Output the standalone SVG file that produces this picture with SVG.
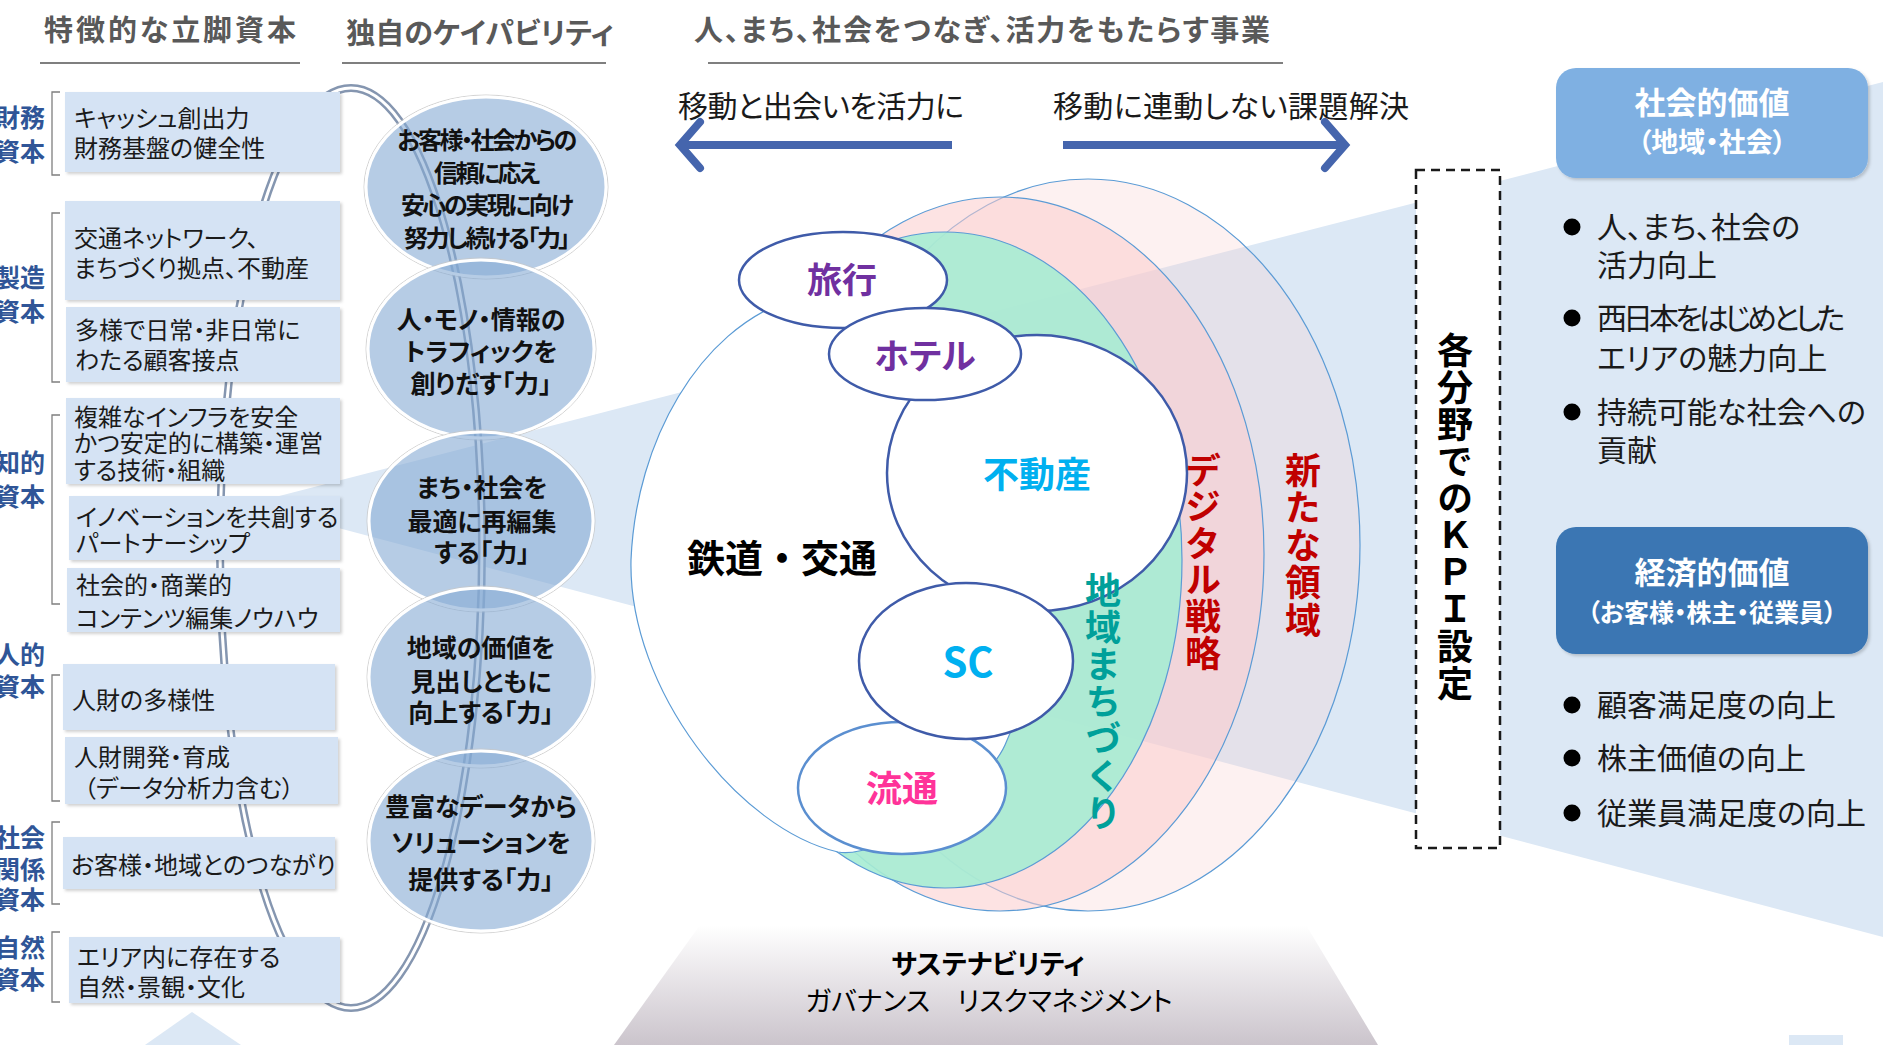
<svg xmlns="http://www.w3.org/2000/svg" width="1883" height="1045" viewBox="0 0 1883 1045">
<defs>
<style>
text{font-family:"Noto Sans CJK JP","Noto Sans",sans-serif;font-feature-settings:"palt"}
.title{font-size:29px;font-weight:700;fill:#595959;text-anchor:middle}
.uline{stroke:#7f7f7f;stroke-width:2}
.box{fill:#d5e3f4;filter:url(#sh)}
.bt{font-size:24px;fill:#1a1a1a}
.lab{font-size:25px;font-weight:700;fill:#2f5597;text-anchor:end}
.br{fill:none;stroke:#7f7f7f;stroke-width:1.3}
.cap{fill:#85aad3;fill-opacity:0.6;stroke:#fff;stroke-width:3}
.caprim{fill:none;stroke:#c8c8c8;stroke-width:1;stroke-opacity:0.8}
.ct{font-size:25px;font-weight:700;fill:#111;text-anchor:middle}
.ring{stroke:#5b9bd5;stroke-width:1.2}
.node{fill:#fff;stroke:#3f5ba9;stroke-width:2.5}
.nt{font-weight:700;text-anchor:middle}
.arr{fill:none;stroke:#4565ad;stroke-width:8}
.vt{font-size:36px;font-weight:700;writing-mode:vertical-rl;font-feature-settings:normal}
.bul{font-size:30px;fill:#1a1a1a}
.hd{fill:#fff;font-weight:700;text-anchor:middle}
</style>
<filter id="sh" x="-5%" y="-10%" width="115%" height="130%">
<feDropShadow dx="2" dy="2" stdDeviation="1.5" flood-color="#000" flood-opacity="0.18"/>
</filter>
<linearGradient id="trap" x1="0" y1="0" x2="0" y2="1">
<stop offset="0" stop-color="#ffffff"/>
<stop offset="1" stop-color="#cbc4cc"/>
</linearGradient>
</defs>

<rect width="1883" height="1045" fill="#fff"/>

<!-- background wedge -->
<g id="wedge">
<polygon points="248,504 1883,82 1883,937" fill="#dce8f5"/>
<polygon points="192,1012 241,1045 145,1045" fill="#dce8f5"/>
<rect x="1789" y="1035" width="54" height="10" fill="#dce8f5"/>
</g>

<!-- titles -->
<g id="titles">
<text class="title" x="170" y="41" textLength="252">特徴的な立脚資本</text>
<line class="uline" x1="40" y1="63" x2="300" y2="63"/>
<text class="title" x="480" y="44">独自のケイパビリティ</text>
<line class="uline" x1="342" y1="63" x2="606" y2="63"/>
<text class="title" x="982" y="41" textLength="576">人、まち、社会をつなぎ、活力をもたらす事業</text>
<line class="uline" x1="708" y1="63" x2="1283" y2="63"/>
</g>

<!-- business rings -->
<g id="ring-new">
<ellipse class="ring" cx="1088" cy="545" rx="272" ry="366" fill="#f8d0d0" fill-opacity="0.3"/>
</g>
<g id="ring-digital">
<ellipse class="ring" cx="1000" cy="554" rx="264" ry="357" fill="#fbcccc" fill-opacity="0.55"/>
</g>
<g id="ring-town">
<ellipse class="ring" cx="945" cy="560" rx="237" ry="328" fill="#a6ecd3" fill-opacity="0.9"/>
</g>

<!-- connectors -->
<g id="connectors">
<ellipse cx="351" cy="548" rx="131" ry="460" fill="none" stroke="#8596b0" stroke-width="8"/>
<ellipse cx="351" cy="548" rx="131" ry="460" fill="none" stroke="#fff" stroke-width="3"/>
<path class="arr" d="M952,145 H682"/>
<path class="arr" d="M700,122 L680,145 L700,168" stroke-linecap="round"/>
<path class="arr" d="M1063,145 H1343"/>
<path class="arr" d="M1325,122 L1345,145 L1325,168" stroke-linecap="round"/>
</g>

<g id="arrow-labels">
<text x="821" y="117" font-size="30" fill="#1a1a1a" text-anchor="middle" textLength="286">移動と出会いを活力に</text>
<text x="1231" y="117" font-size="30" fill="#1a1a1a" text-anchor="middle" textLength="356">移動に連動しない課題解決</text>
</g>

<!-- capital boxes -->
<g id="cap-finance">
<path class="br" d="M60,92 H52 V175 H60"/>
<text class="lab" x="45" y="127">財務<tspan x="45" dy="34">資本</tspan></text>
<rect class="box" x="65" y="92" width="275" height="80"/>
<text class="bt" x="74" y="127">キャッシュ創出力<tspan x="74" dy="30">財務基盤の健全性</tspan></text>
</g>
<g id="cap-manufactured">
<path class="br" d="M60,213 H52 V382 H60"/>
<text class="lab" x="45" y="287">製造<tspan x="45" dy="34">資本</tspan></text>
<rect class="box" x="65" y="201" width="275" height="99"/>
<text class="bt" x="74" y="247">交通ネットワーク、<tspan x="74" dy="30">まちづくり拠点、不動産</tspan></text>
<rect class="box" x="66" y="307" width="274" height="75"/>
<text class="bt" x="75" y="339">多様で日常・非日常に<tspan x="75" dy="30">わたる顧客接点</tspan></text>
</g>
<g id="cap-intellectual">
<path class="br" d="M60,415 H52 V604 H60"/>
<text class="lab" x="45" y="472">知的<tspan x="45" dy="34">資本</tspan></text>
<rect class="box" x="66" y="398" width="274" height="86"/>
<text class="bt" x="74" y="426">複雑なインフラを安全<tspan x="74" dy="26">かつ安定的に構築・運営</tspan><tspan x="74" dy="27">する技術・組織</tspan></text>
<rect class="box" x="69" y="496" width="271" height="64"/>
<text class="bt" x="76" y="526">イノベーションを共創する<tspan x="76" dy="26">パートナーシップ</tspan></text>
<rect class="box" x="67" y="568" width="273" height="64"/>
<text class="bt" x="76" y="594">社会的・商業的<tspan x="76" dy="33">コンテンツ編集ノウハウ</tspan></text>
</g>
<g id="cap-human">
<path class="br" d="M60,675 H52 V801 H60"/>
<text class="lab" x="45" y="664">人的<tspan x="45" dy="32">資本</tspan></text>
<rect class="box" x="63" y="664" width="272" height="66"/>
<text class="bt" x="72" y="709">人財の多様性</text>
<rect class="box" x="65" y="737" width="273" height="67"/>
<text class="bt" x="74" y="766">人財開発・育成<tspan x="84" dy="31">（データ分析力含む）</tspan></text>
</g>
<g id="cap-social">
<path class="br" d="M60,822 H52 V904 H60"/>
<text class="lab" x="45" y="847">社会<tspan x="45" dy="32">関係</tspan><tspan x="45" dy="30">資本</tspan></text>
<rect class="box" x="63" y="837" width="272" height="52"/>
<text class="bt" x="71" y="874">お客様・地域とのつながり</text>
</g>
<g id="cap-natural">
<path class="br" d="M60,932 H52 V1002 H60"/>
<text class="lab" x="45" y="957">自然<tspan x="45" dy="32">資本</tspan></text>
<rect class="box" x="69" y="937" width="271" height="66"/>
<text class="bt" x="77" y="966">エリア内に存在する<tspan x="77" dy="30">自然・景観・文化</tspan></text>
</g>

<!-- capability circles -->
<g id="capability-1">
<ellipse class="caprim" cx="486" cy="187" rx="122" ry="92"/>
<ellipse class="cap" cx="486" cy="187" rx="120" ry="90"/>
<text class="ct" x="486" y="149" style="font-size:24px;letter-spacing:-2.5px">お客様・社会からの<tspan x="486" dy="33">信頼に応え</tspan><tspan x="486" dy="32">安心の実現に向け</tspan><tspan x="486" dy="33">努力し続ける「力」</tspan></text>
</g>
<g id="capability-2">
<ellipse class="caprim" cx="481" cy="349" rx="115" ry="91"/>
<ellipse class="cap" cx="481" cy="349" rx="113" ry="89"/>
<text class="ct" x="481" y="329">人・モノ・情報の<tspan x="481" dy="32">トラフィックを</tspan><tspan x="481" dy="32">創りだす「力」</tspan></text>
</g>
<g id="capability-3">
<ellipse class="caprim" cx="481" cy="521" rx="114" ry="91"/>
<ellipse class="cap" cx="481" cy="521" rx="112" ry="89"/>
<text class="ct" x="482" y="497">まち・社会を<tspan x="482" dy="34">最適に再編集</tspan><tspan x="482" dy="31">する「力」</tspan></text>
</g>
<g id="capability-4">
<ellipse class="caprim" cx="481" cy="677" rx="114" ry="91"/>
<ellipse class="cap" cx="481" cy="677" rx="112" ry="89"/>
<text class="ct" x="481" y="657">地域の価値を<tspan x="481" dy="34">見出しともに</tspan><tspan x="481" dy="31">向上する「力」</tspan></text>
</g>
<g id="capability-5">
<ellipse class="caprim" cx="481" cy="841" rx="114" ry="92"/>
<ellipse class="cap" cx="481" cy="841" rx="112" ry="90"/>
<text class="ct" x="481" y="816">豊富なデータから<tspan x="481" dy="36">ソリューションを</tspan><tspan x="481" dy="37">提供する「力」</tspan></text>
</g>

<!-- core business -->
<g id="railway">
<path d="M790,300 C700,330 636,440 631,560 C628,690 740,830 838,852 C880,860 985,790 1005,745 C1025,700 1050,620 1060,560 C1070,470 1040,390 980,345 C930,320 850,290 790,300 Z" fill="#fff" stroke="#5b9bd5" stroke-width="1.2"/>
<text x="782" y="572" font-size="38" font-weight="700" fill="#000" text-anchor="middle" style="font-feature-settings:normal">鉄道・交通</text>
</g>
<g id="realestate">
<ellipse class="node" cx="1037" cy="473" rx="150" ry="138"/>
<text class="nt" x="1037" y="488" font-size="36" fill="#00b0f0">不動産</text>
</g>
<g id="distribution">
<ellipse cx="902" cy="788" rx="104" ry="66" fill="#fff" stroke="#5b8fd0" stroke-width="2.5"/>
<text class="nt" x="902" y="802" font-size="36" fill="#ff3399">流通</text>
</g>
<g id="sc">
<ellipse class="node" cx="966" cy="661" rx="107" ry="78"/>
<text class="nt" x="968" y="677" font-size="40" fill="#00b0f0">SC</text>
</g>
<g id="travel">
<ellipse class="node" cx="843" cy="280" rx="104" ry="48"/>
<text class="nt" x="842" y="293" font-size="35" fill="#7030a0">旅行</text>
</g>
<g id="hotel">
<ellipse class="node" cx="925" cy="354" rx="96" ry="46"/>
<text class="nt" x="925" y="369" font-size="35" fill="#7030a0">ホテル</text>
</g>

<!-- ring labels -->
<g id="label-town">
<text class="vt" x="1103" y="572" fill="#00a09a" style="letter-spacing:1.2px">地域まちづくり</text>
</g>
<g id="label-digital">
<text class="vt" x="1203" y="452" fill="#c00000" style="letter-spacing:0.6px">デジタル戦略</text>
</g>
<g id="label-new">
<text class="vt" x="1303" y="452" fill="#c00000" style="letter-spacing:1.5px">新たな領域</text>
</g>

<!-- KPI box -->
<g id="kpi">
<rect x="1416" y="170" width="84" height="678" fill="#fff" stroke="#1a1a1a" stroke-width="2.5" stroke-dasharray="9,6"/>
<text class="vt" x="1455" y="332" fill="#000" style="letter-spacing:1px">各分野でのＫＰＩ設定</text>
</g>

<!-- value boxes -->
<g id="social-value">
<rect x="1556" y="68" width="312" height="110" rx="20" fill="#7fb0e2" filter="url(#sh)"/>
<text class="hd" x="1712" y="114" font-size="31">社会的価値<tspan x="1712" dy="38" font-size="27">（地域・社会）</tspan></text>
<circle cx="1572" cy="227" r="8.5" fill="#000"/>
<text class="bul" x="1597" y="238">人、まち、社会の<tspan x="1597" dy="38">活力向上</tspan></text>
<circle cx="1572" cy="318" r="8.5" fill="#000"/>
<text class="bul" x="1597" y="329"><tspan style="letter-spacing:-4px">西日本をはじめとした</tspan><tspan x="1597" dy="40">エリアの魅力向上</tspan></text>
<circle cx="1572" cy="412" r="8.5" fill="#000"/>
<text class="bul" x="1597" y="423">持続可能な社会への<tspan x="1597" dy="38">貢献</tspan></text>
</g>
<g id="economic-value">
<rect x="1556" y="527" width="312" height="127" rx="20" fill="#3a76b3" filter="url(#sh)"/>
<text class="hd" x="1712" y="584" font-size="31">経済的価値<tspan x="1712" dy="38" font-size="25">（お客様・株主・従業員）</tspan></text>
<circle cx="1572" cy="705" r="8.5" fill="#000"/>
<text class="bul" x="1597" y="716">顧客満足度の向上</text>
<circle cx="1572" cy="758" r="8.5" fill="#000"/>
<text class="bul" x="1597" y="769">株主価値の向上</text>
<circle cx="1572" cy="813" r="8.5" fill="#000"/>
<text class="bul" x="1597" y="824">従業員満足度の向上</text>
</g>

<!-- foundation -->
<g id="sustainability">
<polygon points="700,925 1306,925 1378,1045 614,1045" fill="url(#trap)"/>
<text x="988" y="974" font-size="27" font-weight="700" fill="#000" text-anchor="middle">サステナビリティ<tspan x="989" dy="37" font-weight="400">ガバナンス　リスクマネジメント</tspan></text>
</g>
</svg>
